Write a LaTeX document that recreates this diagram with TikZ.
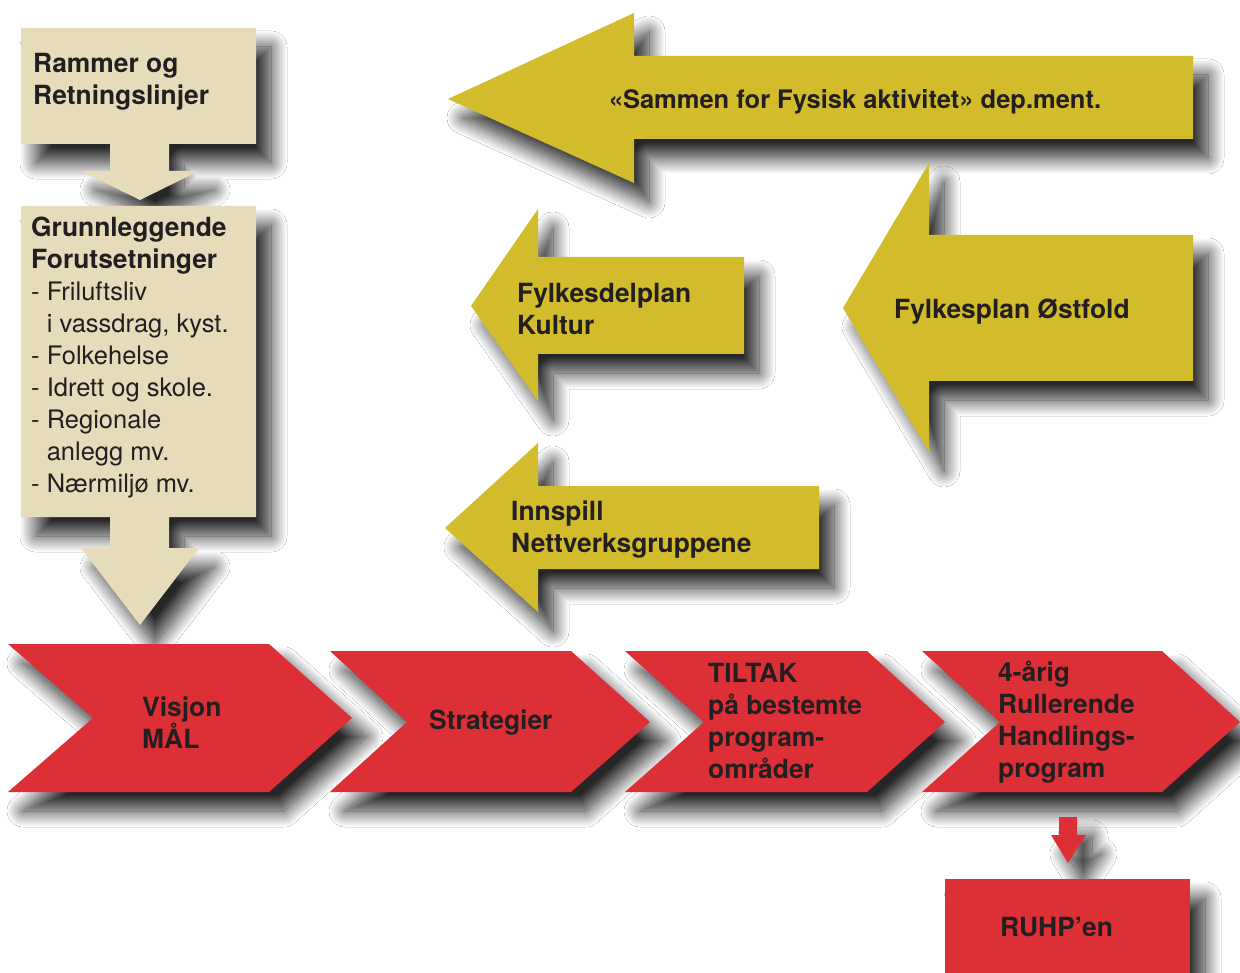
\documentclass[tikz,border=0pt]{standalone}
\usepackage{fontspec}
\setmainfont{TeX Gyre Heros}
\usetikzlibrary{shadows.blur}
\definecolor{beige}{RGB}{231,220,185}
\definecolor{gold}{RGB}{211,188,44}
\definecolor{redc}{RGB}{220,48,54}
\definecolor{ink}{RGB}{35,31,32}
\begin{document}
\begin{tikzpicture}[x=1pt,y=-1pt,
  sh/.style={blur shadow={shadow xshift=15pt,shadow yshift=-19pt,shadow blur radius=16pt,shadow blur steps=24,shadow opacity=85}},
  beigeshape/.style={fill=beige,sh},
  goldshape/.style={fill=gold,sh},
  redshape/.style={fill=redc,sh},
  lbl/.style={font=\fontsize{26.4}{32}\selectfont\bfseries,text=ink,inner sep=0pt,align=left},
  lst/.style={font=\fontsize{25.5}{32}\selectfont,text=ink,inner sep=0pt,align=left}]
\useasboundingbox (0,0) rectangle (1240,973);
\fill[white] (0,0) rectangle (1240,973);

% beige boxes with down arrows
\path[beigeshape] (21,28) -- (256,28) -- (256,144) -- (169,144) -- (169,171) -- (199,171) -- (140,200) -- (81,171) -- (110,171) -- (110,144) -- (21,144) -- cycle;
\path[beigeshape] (21,206) -- (256,206) -- (256,517) -- (169,517) -- (169,548) -- (199,548) -- (140,625) -- (81,548) -- (110,548) -- (110,517) -- (21,517) -- cycle;

% gold arrows
\path[goldshape] (448,99) -- (634,13) -- (634,56) -- (1193,56) -- (1193,139) -- (634,139) -- (634,183) -- cycle;
\path[goldshape] (843,308) -- (929,163) -- (929,235) -- (1193,235) -- (1193,381) -- (929,381) -- (929,452) -- cycle;
\path[goldshape] (471,306) -- (538,209) -- (538,257) -- (744,257) -- (744,354) -- (538,354) -- (538,401) -- cycle;
\path[goldshape] (445,528) -- (538,443) -- (538,486) -- (819,486) -- (819,569) -- (538,569) -- (538,612) -- cycle;

% red chevrons
\path[redshape] (8,644) -- (269,644) -- (352,718) -- (269,792) -- (8,792) -- (93,718) -- cycle;
\path[redshape] (330,651) -- (571,651) -- (650,722) -- (571,792) -- (330,792) -- (407,722) -- cycle;
\path[redshape] (625,651) -- (867,651) -- (945,722) -- (867,792) -- (625,792) -- (704,722) -- cycle;
\path[redshape] (922,651) -- (1162,651) -- (1240,722) -- (1162,792) -- (922,792) -- (1000,722) -- cycle;

% small arrow and RUHP box
\path[redshape] (1059,817) -- (1077,817) -- (1077,835) -- (1086,835) -- (1068,863) -- (1051,835) -- (1059,835) -- cycle;
\path[redshape] (945,879) rectangle (1190,1000);

% texts
\node[lbl,anchor=west] (rammer) at (33,82) {Rammer og\\Retningslinjer};
\node[lst,anchor=west] (grunn) at (31,357) {\textbf{\fontsize{26.4}{32}\selectfont Grunnleggende}\\\textbf{\fontsize{26.4}{32}\selectfont Forutsetninger}\\- Friluftsliv\\\phantom{- }i vassdrag, kyst.\\- Folkehelse\\- Idrett og skole.\\- Regionale\\\phantom{- }anlegg mv.\\- Nærmiljø mv.};
\node[lbl,font=\fontsize{25.5}{32}\selectfont\bfseries] (sammen) at (855,102) {«Sammen for Fysisk aktivitet» dep.ment.};
\node[lbl,anchor=west] (fdp) at (517,309) {Fylkesdelplan\\Kultur};
\node[lbl,anchor=west] (fpo) at (894,312) {Fylkesplan Østfold};
\node[lbl,anchor=west] (innspill) at (511,530) {Innspill\\Nettverksgruppene};
\node[lbl,anchor=west] (visjon) at (142,723) {Visjon\\MÅL};
\node[lbl,anchor=west] (strat) at (429,723) {Strategier};
\node[lbl,anchor=west] (tiltak) at (708,721) {TILTAK\\på bestemte\\program-\\områder};
\node[lbl,anchor=west] (rull) at (998,722) {4-årig\\Rullerende\\Handlings-\\program};
\node[lbl,anchor=west] (ruhp) at (1000,927) {RUHP’en};
\end{tikzpicture}
\end{document}
